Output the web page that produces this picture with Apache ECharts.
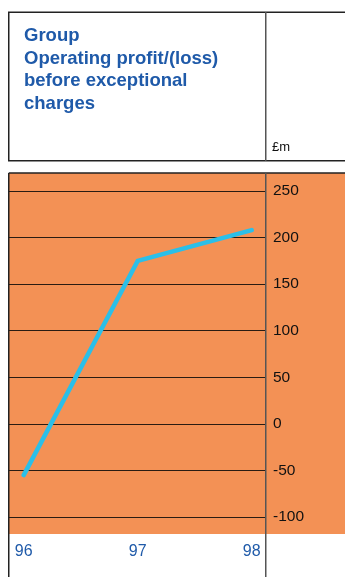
<!DOCTYPE html>
<html>
<head>
<meta charset="utf-8">
<style>
  html, body { margin: 0; padding: 0; background: #ffffff; }
  #chart { width: 345px; height: 577px; }
</style>
<script src="https://cdn.jsdelivr.net/npm/echarts@6/dist/echarts.min.js"></script>
</head>
<body>
<div id="chart"></div>
<script>
// Group operating profit/(loss) before exceptional charges, £m
const years = ['96', '97', '98'];
const operatingProfit = [-55, 175, 208];
const axisMin = -100;
const axisMax = 250;
const axisStep = 50;

const titleLines = ['Group', 'Operating profit/(loss)', 'before exceptional', 'charges'];
const unitLabel = '£m';

const FONT = '"Liberation Sans", Arial, Helvetica, sans-serif';
const BLUE = '#1f5aa9';
const ORANGE = '#f39155';
const RULE = '#2a1c12';
const FRAME = '#222222';

const chart = echarts.init(document.getElementById('chart'), null, { renderer: 'canvas' });

const plotTop = 191;
const plotBottom = 577 - 517;

chart.setOption({
  animation: false,
  backgroundColor: '#ffffff',
  title: {
    text: titleLines.join('\n'),
    left: 24,
    top: 24.5,
    padding: 0,
    textStyle: {
      color: BLUE,
      fontFamily: FONT,
      fontWeight: 'bold',
      fontSize: 18.5,
      lineHeight: 22.7
    }
  },
  graphic: [
    // orange panel behind the plot
    { type: 'rect', z: -10, silent: true,
      shape: { x: 9, y: 173, width: 336, height: 361 },
      style: { fill: ORANGE } },
    // header box
    { type: 'rect', z: 10, silent: true,
      shape: { x: 8.75, y: 12.25, width: 345, height: 148.5 },
      style: { fill: null, stroke: FRAME, lineWidth: 1.5 } },
    // chart frame: top and left edges
    { type: 'line', z: 10, silent: true,
      shape: { x1: 8.75, y1: 173, x2: 345, y2: 173 },
      style: { stroke: FRAME, lineWidth: 1.5 } },
    { type: 'line', z: 10, silent: true,
      shape: { x1: 8.75, y1: 173, x2: 8.75, y2: 577 },
      style: { stroke: FRAME, lineWidth: 1.5 } },
    // column divider in the header and in the plot
    { type: 'line', z: 10, silent: true,
      shape: { x1: 265.75, y1: 12, x2: 265.75, y2: 161 },
      style: { stroke: '#555555', lineWidth: 1.5 } },
    { type: 'line', z: 10, silent: true,
      shape: { x1: 265.75, y1: 173, x2: 265.75, y2: 577 },
      style: { stroke: '#555555', lineWidth: 1.5 } },
    // unit label
    { type: 'text', z: 10, silent: true,
      x: 272, y: 147,
      style: { text: unitLabel, fill: '#111111', font: '13px ' + FONT,
               textVerticalAlign: 'middle' } }
  ],
  grid: [
    { left: 9, right: 345 - 266, top: plotTop, bottom: plotBottom },
    { left: 23.7, right: 345 - 251.7, top: plotTop, bottom: plotBottom }
  ],
  xAxis: [
    { gridIndex: 0, type: 'value', min: 0, max: 1, show: false },
    { gridIndex: 1, type: 'category', data: years, boundaryGap: false,
      axisLine: { show: false }, axisTick: { show: false }, splitLine: { show: false },
      axisLabel: { color: BLUE, fontFamily: FONT, fontSize: 16, margin: 27 } }
  ],
  yAxis: [
    { gridIndex: 0, type: 'value', position: 'right',
      min: axisMin, max: axisMax, interval: axisStep,
      axisLine: { show: false }, axisTick: { show: false },
      splitLine: { show: true, lineStyle: { color: RULE, width: 1 } },
      axisLabel: { color: '#111111', fontFamily: FONT, fontSize: 15.5, margin: 7 } },
    { gridIndex: 1, type: 'value', show: false,
      min: axisMin, max: axisMax, interval: axisStep }
  ],
  series: [
    {
      type: 'line',
      xAxisIndex: 1,
      yAxisIndex: 1,
      data: operatingProfit,
      showSymbol: false,
      symbol: 'none',
      lineStyle: { color: '#2bbfe8', width: 4.5, cap: 'round', join: 'miter' },
      z: 5
    }
  ]
});
</script>
</body>
</html>
